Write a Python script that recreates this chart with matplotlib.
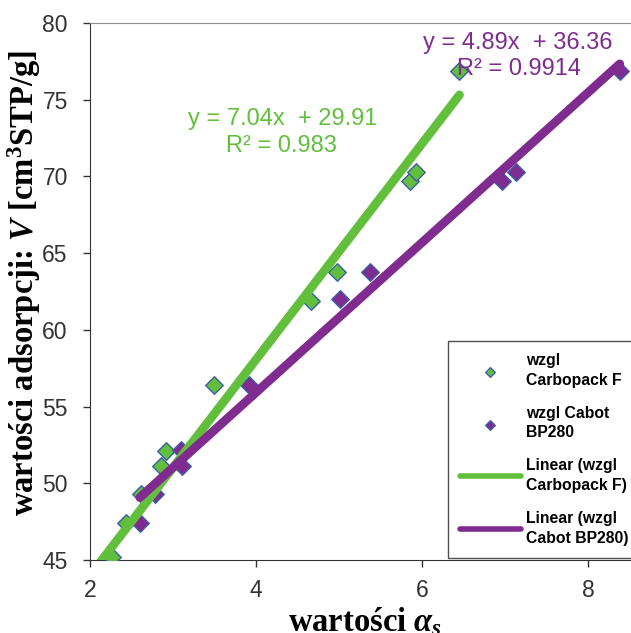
import numpy as np
import matplotlib
matplotlib.use("Agg")
import matplotlib.pyplot as plt

### Data ###
carbopack_x = [2.27, 2.43, 2.62, 2.86, 2.91, 3.49, 4.66, 4.97, 5.85, 5.93, 6.45]
carbopack_y = [45.2, 47.4, 49.3, 51.1, 52.1, 56.4, 61.9, 63.8, 69.7, 70.3, 76.9]
cabot_x = [2.60, 2.78, 3.10, 3.11, 3.92, 5.01, 5.37, 6.96, 7.13, 8.38]
cabot_y = [47.4, 49.3, 52.2, 51.1, 56.4, 62.0, 63.8, 69.7, 70.3, 76.9]

# trendline coefficients (slope, intercept, R^2)
carbopack_fit = (7.04, 29.91, 0.983)
cabot_fit = (4.89, 36.36, 0.9914)

x_ticks = [2, 4, 6, 8]
y_ticks = [45, 50, 55, 60, 65, 70, 75, 80]

### Style ###
green = "#62bf3c"
purple = "#7f2b8f"
edge = "#3d5fa8"

plt.rcParams["font.family"] = ["Liberation Sans", "DejaVu Sans"]
plt.rcParams["mathtext.fontset"] = "custom"
plt.rcParams["mathtext.rm"] = "Liberation Serif:bold"
plt.rcParams["mathtext.it"] = "Liberation Serif:italic:bold"
plt.rcParams["mathtext.bf"] = "Liberation Serif:bold"

fig = plt.figure(figsize=(6.31, 6.33), dpi=100)
ax = fig.add_axes([0.1426, 0.1153, 0.8685, 0.8483])

# points
ax.scatter(carbopack_x, carbopack_y, marker="D", s=80, color=green,
           edgecolor=edge, linewidth=1.0, zorder=3, label="wzgl\nCarbopack F")
ax.scatter(cabot_x, cabot_y, marker="D", s=80, color=purple,
           edgecolor=edge, linewidth=1.0, zorder=3, label="wzgl Cabot\nBP280")

# trendlines
gx = np.array([2.0, max(carbopack_x)])
ax.plot(gx, carbopack_fit[0] * gx + carbopack_fit[1], color=green, lw=6.3,
        solid_capstyle="round", zorder=4, label="Linear (wzgl\nCarbopack F)")
px = np.array([min(cabot_x), max(cabot_x)])
ax.plot(px, cabot_fit[0] * px + cabot_fit[1], color=purple, lw=6.3,
        solid_capstyle="round", zorder=4, label="Linear (wzgl\nCabot BP280)")

# equations
ax.text(4.32, 73.74, f"y = {carbopack_fit[0]:.2f}x  + {carbopack_fit[1]:.2f}",
        color=green, fontsize=17, ha="center", va="center", zorder=5)
ax.text(4.30, 71.98, f"R² = {carbopack_fit[2]}",
        color=green, fontsize=17, ha="center", va="center", zorder=5)
ax.text(7.15, 78.7, f"y = {cabot_fit[0]:.2f}x  + {cabot_fit[1]:.2f}",
        color=purple, fontsize=17, ha="center", va="center", zorder=5)
ax.text(7.17, 77.0, f"R² = {cabot_fit[2]}",
        color=purple, fontsize=17, ha="center", va="center", zorder=5)

# axes
ax.set_xlim(2, 8.6)
ax.set_ylim(45, 80)
ax.set_xticks(x_ticks)
ax.set_yticks(y_ticks)
ax.tick_params(direction="out", length=5, width=1, labelsize=16.5,
               colors="#333333")
ax.tick_params(axis="y", pad=11)
ax.tick_params(axis="x", pad=9)
ax.spines["right"].set_visible(False)
ax.spines["top"].set_color("#909090")
ax.spines["left"].set_color("#333333")
ax.spines["bottom"].set_color("#333333")

ax.set_xlabel(r"wartości $\alpha_{s}$", family="Liberation Serif",
              fontweight="bold", fontsize=23.5)
ax.xaxis.set_label_coords((365 - 90) / (0.8685 * 631), -0.085)
ax.set_ylabel(r"wartości adsorpcji: $V$ [cm$^{3}$STP/g]", family="Liberation Serif",
              fontweight="bold", fontsize=23.5)
ax.yaxis.set_label_coords(-0.0865, 0.515)

leg = fig.legend(loc="upper left", bbox_to_anchor=(448 / 631, 1 - 341 / 633),
                 borderaxespad=0, frameon=True, fancybox=False,
                 edgecolor="#222222", prop={"weight": "bold", "size": 11.3},
                 handlelength=3.9, labelspacing=1.15, borderpad=0.75,
                 markerscale=0.55, handletextpad=0.35)
leg.get_frame().set_linewidth(1.0)
for line in leg.get_lines():
    line.set_linewidth(4)
for t in leg.get_texts():
    t.set_linespacing(1.4)

fig.savefig("out.png", dpi=100)
